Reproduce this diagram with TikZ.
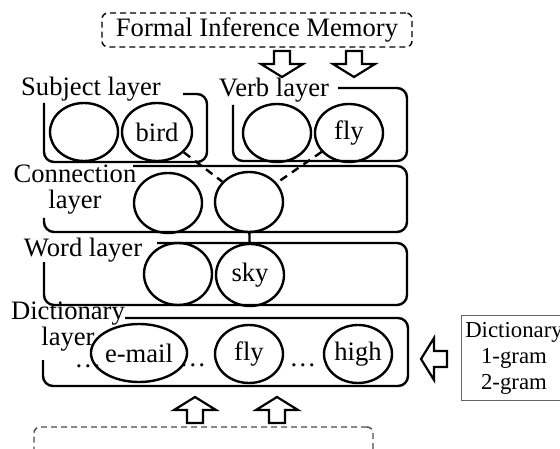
\documentclass[tikz,border=0pt]{standalone}
\usepackage{fontspec}
\setmainfont{Liberation Serif}
\usetikzlibrary{shapes.geometric, positioning}
\tikzset{
    unit/.style={
        ellipse, draw=black, line width=1.2pt, inner sep=0pt,
        minimum width=34pt, minimum height=29pt
    },
    layerlabel/.style={align=center, inner sep=0pt},
    layerframe/.style={draw=black, line width=1.2pt, rounded corners=5pt},
    link/.style={draw=black, line width=1.2pt, dash pattern=on 4pt off 3pt},
    gap/.style={anchor=base, inner sep=0pt, text height=2pt, text depth=0pt},
    memorybox/.style={draw=black, line width=0.7pt, densely dashed, rounded corners=3pt, inner sep=0pt},
    dictbox/.style={draw=black!60, line width=0.5pt, align=center, inner xsep=0.6pt,
        font=\fontsize{11.4}{13}\selectfont},
    fatarrow/.pic={
        \draw[line width=1.1pt, fill=white]
            (-8,-13) -- (8,-13) -- (8,0) -- (21,0) -- (0,13) -- (-21,0) -- (-8,0) -- cycle;
    }
}

\begin{document}
\begin{tikzpicture}[x=0.5pt, y=-0.5pt, font=\fontsize{13.3}{13}\selectfont]
    \useasboundingbox (0,0) rectangle (560,448);
    \clip (0,0) rectangle (560,448);

    % Memory on top and input below
    \node[memorybox, minimum width=155pt, minimum height=17pt] (fim) at (257,30) {Formal Inference Memory};
    \node[memorybox, draw=black!70, minimum width=169.5pt, minimum height=22pt] (input) at (203.5,449) {};

    % Layer labels
    \node[layerlabel] (subjlbl) at (91,89) {Subject layer};
    \node[layerlabel] (verblbl) at (274,90) {Verb layer};
    \node[layerlabel] (connlbl) at (75,190) {Connection\\layer};
    \node[layerlabel] (wordlbl) at (83,250) {Word layer};
    \node[layerlabel] (dictlbl) at (68,327) {Dictionary\\layer};

    % Layer frames
    \draw[layerframe] (183,94) -- (207,94) -- (207,162) -- (44,162) -- (44,103);
    \draw[layerframe] (338,88) -- (407,88) -- (407,161) -- (233,161) -- (233,105);
    \draw[layerframe] (133,166) -- (407,166) -- (407,232) -- (44,232) -- (44,218);
    \draw[layerframe] (157,243) -- (407,243) -- (407,305) -- (44,305) -- (44,262);
    \draw[layerframe] (125,318) -- (408,318) -- (408,386) -- (43,386) -- (43,360);

    % Units
    \node[unit] (s1) at (84,132) {};
    \node[unit, minimum width=35pt] (s2) at (157,132) {bird};
    \node[unit] (v1) at (277,133) {};
    \node[unit] (v2) at (349,133) {fly};
    \node[unit, minimum height=30pt] (c1) at (168,203) {};
    \node[unit, minimum height=30pt] (c2) at (249,202) {};
    \node[unit, minimum height=31pt] (w1) at (178,274) {};
    \node[unit, minimum height=31pt] (w2) at (250,275) {sky};
    \node[unit, minimum width=37pt] (d1) at (139,353) {e-mail};
    \node[unit] (d2) at (249,354) {fly};
    \node[unit] (d3) at (358,354) {high};

    % Dots between dictionary units
    \node[gap] (dots1) at (88,367) {\dots};
    \node[gap] (dots2) at (193,366) {\dots};
    \node[gap] (dots3) at (303,366) {\dots};

    % Links
    \draw[link] (s2) -- (c2);
    \draw[link] (v2) -- (c2);
    \draw[line width=1.2pt] (c2) -- (w2);

    % Dictionary source
    \node[dictbox, minimum width=53pt, minimum height=41pt] (dict) at (514,358) {Dictionary\\1-gram\\2-gram};

    % Block arrows
    \pic at (282,64) {fatarrow};
    \pic at (354,64) {fatarrow};
    \pic[rotate=180] at (195,410) {fatarrow};
    \pic[rotate=180] at (277,410) {fatarrow};
    \pic[rotate=-90] at (434,359) {fatarrow};
\end{tikzpicture}
\end{document}
